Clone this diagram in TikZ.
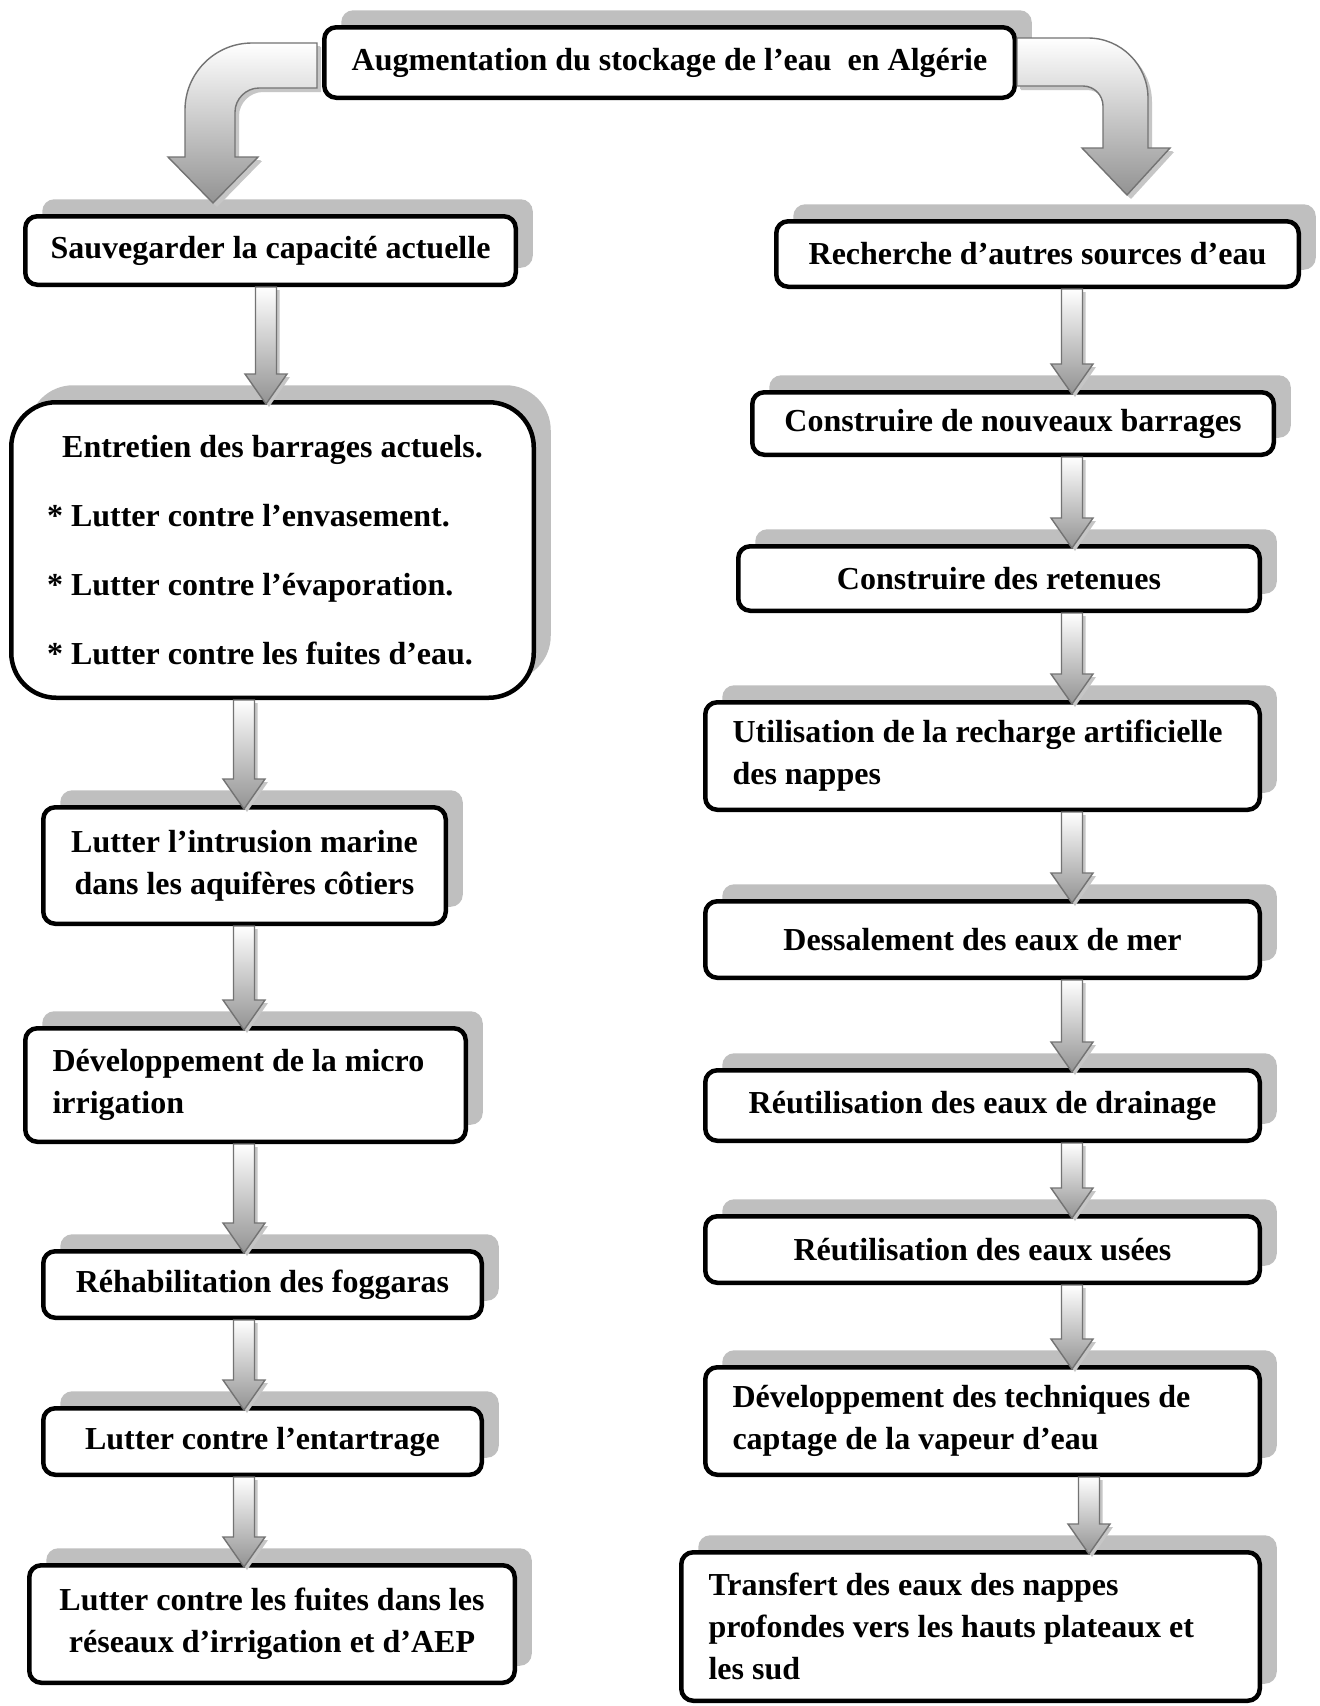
\documentclass[tikz,border=0pt]{standalone}
\usepackage{fontspec}
\setmainfont{Liberation Serif}
\usetikzlibrary{shadows,calc}
\tikzset{
  box/.style={draw=black, line width=4.5pt, rounded corners=12pt, fill=white,
    font=\fontsize{32}{42}\selectfont\bfseries, inner sep=0pt, align=center,
    drop shadow={shadow xshift=17pt, shadow yshift=17pt, fill=gray!50, opacity=1}},
  lbox/.style={box, align=flush left},
  blockarrow/.style={draw=black!55, line width=1.4pt, top color=white, bottom color=gray!85,
    drop shadow={shadow xshift=3pt, shadow yshift=-3pt, fill=gray!45, opacity=1}},
}
\newcommand{\blockarrow}[3]{%
  \path[blockarrow] let \p1=(#2.south), \p2=(#3.north) in
    (#1pt-10.5pt,\y1) -- (#1pt+10.5pt,\y1) -- (#1pt+10.5pt,\y2+26pt)
    -- (#1pt+21pt,\y2+26pt) -- (#1pt,\y2-4pt) -- (#1pt-21pt,\y2+26pt)
    -- (#1pt-10.5pt,\y2+26pt) -- cycle;}
\begin{document}
\begin{tikzpicture}[x=1pt,y=-1pt]
\useasboundingbox (0,0) rectangle (1320,1706);
\fill[white] (0,0) rectangle (1320,1706);
% top
\node[box, minimum width=690.5pt, minimum height=70.5pt] (top) at (669.5,62.5)
  {Augmentation du stockage de l’eau~ en Algérie};
% left column
\node[box, minimum width=490.5pt, minimum height=68.5pt] (sauv) at (270.5,250.5)
  {Sauvegarder la capacité actuelle};
\node[lbox, rounded corners=45pt, minimum width=522.5pt, minimum height=295.5pt, text width=451pt] (entr) at (272.5,550)
  {\makebox[\linewidth][c]{Entretien des barrages actuels.}\\[27pt]
   * Lutter contre l’envasement.\\[27pt]
   * Lutter contre l’évaporation.\\[27pt]
   * Lutter contre les fuites d’eau.};
\node[box, minimum width=402.5pt, minimum height=116.5pt] (intr) at (244.5,865.5)
  {Lutter l’intrusion marine\\dans les aquifères côtiers};
\node[lbox, minimum width=440.5pt, minimum height=113.5pt, text width=386pt] (micro) at (245.5,1085)
  {Développement de la micro\\irrigation};
\node[box, minimum width=438.5pt, minimum height=66.5pt] (rehab) at (262.5,1284.5)
  {Réhabilitation des foggaras};
\node[box, minimum width=438.5pt, minimum height=66.5pt] (entart) at (262.5,1441.5)
  {Lutter contre l’entartrage};
\node[box, minimum width=485.5pt, minimum height=117.5pt] (fuites) at (272,1624)
  {Lutter contre les fuites dans les\\réseaux d’irrigation et d’AEP};
% right column
\node[box, minimum width=522.5pt, minimum height=65.5pt] (rech) at (1037.5,254)
  {Recherche d’autres sources d’eau};
\node[box, minimum width=521.5pt, minimum height=62.5pt] (barr) at (1013,423.5)
  {Construire de nouveaux barrages};
\node[box, minimum width=521.5pt, minimum height=64.5pt] (ret) at (999,578.5)
  {Construire des retenues};
\node[lbox, minimum width=554.5pt, minimum height=107.5pt, text width=500pt] (util) at (982.5,756)
  {Utilisation de la recharge artificielle\\des nappes};
\node[box, minimum width=554.5pt, minimum height=76.5pt] (dess) at (982.5,939.5)
  {Dessalement des eaux de mer};
\node[box, minimum width=554.5pt, minimum height=70.5pt] (drain) at (982.5,1105.5)
  {Réutilisation des eaux de drainage};
\node[box, minimum width=554.5pt, minimum height=66.5pt] (usees) at (982.5,1249.5)
  {Réutilisation des eaux usées};
\node[lbox, minimum width=554.5pt, minimum height=107.5pt, text width=500pt] (devt) at (982.5,1421)
  {Développement des techniques de\\captage de la vapeur d’eau};
\node[lbox, minimum width=578.5pt, minimum height=148.5pt, text width=524pt] (transf) at (970.5,1626.5)
  {Transfert des eaux des nappes\\profondes vers les hauts plateaux et\\les sud};
% straight block arrows
\blockarrow{266}{sauv}{entr}
\blockarrow{244}{entr}{intr}
\blockarrow{244}{intr}{micro}
\blockarrow{244}{micro}{rehab}
\blockarrow{244}{rehab}{entart}
\blockarrow{244}{entart}{fuites}
\blockarrow{1072}{rech}{barr}
\blockarrow{1072}{barr}{ret}
\blockarrow{1072}{ret}{util}
\blockarrow{1072}{util}{dess}
\blockarrow{1072}{dess}{drain}
\blockarrow{1072}{drain}{usees}
\blockarrow{1072}{usees}{devt}
\blockarrow{1089}{devt}{transf}
% curved arrows from the top box
\path[blockarrow, drop shadow={shadow xshift=4pt, shadow yshift=-4pt, fill=gray!45, opacity=1}]
  (317,43) -- (252,43) .. controls (215,43) and (185,73) .. (185,110)
  -- (185,157) -- (168,157) -- (213,203) -- (258,157) -- (235,157)
  -- (235,112) .. controls (235,99) and (246,88) .. (259,88) -- (317,88) -- cycle;
\path[blockarrow, drop shadow={shadow xshift=4pt, shadow yshift=-4pt, fill=gray!45, opacity=1}]
  (1017,38) -- (1088,38) .. controls (1121,38) and (1148,65) .. (1148,98)
  -- (1148,148) -- (1170,148) -- (1127,195) -- (1082,148) -- (1103,148)
  -- (1103,106) .. controls (1103,95) and (1094,86) .. (1083,86) -- (1017,86) -- cycle;
\end{tikzpicture}
\end{document}
